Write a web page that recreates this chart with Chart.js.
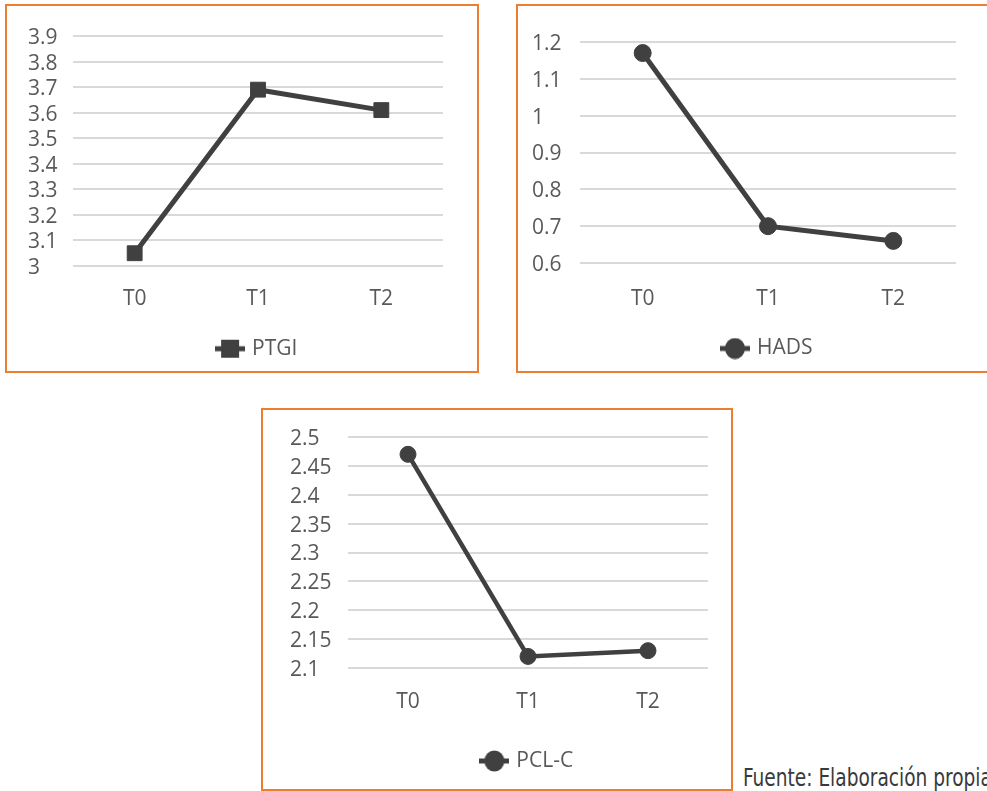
<!DOCTYPE html>
<html><head><meta charset="utf-8">
<script src="https://cdn.jsdelivr.net/npm/chart.js@4.4.0/dist/chart.umd.min.js"></script>
<style>
html,body{margin:0;padding:0;background:#fff;width:987px;height:791px;overflow:hidden;}
.box{position:absolute;border:2px solid #ED7D31;box-sizing:border-box;background:#fff;overflow:hidden;}
.box canvas{position:absolute;left:0;top:0;}
#fuente{position:absolute;left:743px;top:766px;font-family:'Liberation Sans Narrow','DejaVu Sans Condensed',sans-serif;font-size:24px;color:#3a3a3a;white-space:nowrap;line-height:24px;transform:scaleX(0.86);transform-origin:0 0;}
</style></head><body>
<div class="box" style="left:5px;top:4px;width:474px;height:369px;"><canvas id="c1" width="470" height="365"></canvas></div>
<div class="box" style="left:516px;top:4px;width:474px;height:369px;"><canvas id="c2" width="470" height="365"></canvas></div>
<div class="box" style="left:261px;top:408px;width:472px;height:383px;"><canvas id="c3" width="468" height="379"></canvas></div>
<div id="fuente">Fuente: Elaboración propia</div>
<script>
const categories = ['T0', 'T1', 'T2'];
const ptgiValues = [3.05, 3.69, 3.61];
const hadsValues = [1.17, 0.70, 0.66];
const pclcValues = [2.47, 2.12, 2.13];
const ptgiTicks = ['3', '3.1', '3.2', '3.3', '3.4', '3.5', '3.6', '3.7', '3.8', '3.9'];
const hadsTicks = ['0.6', '0.7', '0.8', '0.9', '1', '1.1', '1.2'];
const pclcTicks = ['2.1', '2.15', '2.2', '2.25', '2.3', '2.35', '2.4', '2.45', '2.5'];

const LINE = '#404040';
const TEXT = '#595959';
const GRID = '#d9d9d9';
const FONT = "'Open Sans', sans-serif";

function makeIcon(shape) {
  const c = document.createElement('canvas');
  c.width = 30; c.height = 22;
  const g = c.getContext('2d');
  g.strokeStyle = LINE; g.fillStyle = LINE; g.lineWidth = 5;
  g.beginPath(); g.moveTo(0, 11); g.lineTo(30, 11); g.stroke();
  g.beginPath();
  if (shape === 'rect') { g.rect(6, 2, 18, 18); }
  else { g.ellipse(15, 11, 10, 10.5, 0, 0, Math.PI * 2); }
  g.fill();
  return c;
}

function makeChart(id, o) {
  new Chart(document.getElementById(id), {
    type: 'line',
    data: {
      labels: categories,
      datasets: [{
        label: o.label,
        data: o.values,
        borderColor: LINE,
        backgroundColor: LINE,
        borderWidth: o.lineWidth,
        pointStyle: o.shape,
        pointRadius: o.radius,
        pointHoverRadius: o.radius,
        pointBorderWidth: 1,
        pointBackgroundColor: LINE,
        pointBorderColor: LINE,
        tension: 0,
        clip: false
      }]
    },
    options: {
      responsive: false,
      animation: false,
      events: [],
      layout: { padding: { top: o.pTop, left: o.pLeft, right: o.pRight, bottom: o.pBottom } },
      plugins: {
        tooltip: { enabled: false },
        legend: {
          position: 'bottom',
          fullSize: false,
          labels: {
            usePointStyle: true,
            pointStyle: makeIcon(o.shape),
            pointStyleWidth: 23,
            boxHeight: 21,
            padding: o.legendPad,
            color: TEXT,
            font: { family: FONT, size: 21 }
          }
        }
      },
      scales: {
        x: {
          offset: true,
          grid: { display: false, drawTicks: false },
          border: { display: false },
          ticks: { color: TEXT, padding: o.xPad, font: { family: FONT, size: 21 }, maxRotation: 0, autoSkip: false }
        },
        y: {
          min: o.min, max: o.max,
          grid: { color: GRID, lineWidth: 2, drawTicks: false },
          border: { display: false },
          afterFit: (s) => { s.width = o.yWidth; },
          ticks: {
            stepSize: o.step,
            maxTicksLimit: 20,
            autoSkip: false,
            crossAlign: 'far',
            labelOffset: 2,
            color: TEXT,
            font: { family: FONT, size: 21, lineHeight: 1 },
            callback: (v, i) => o.tickLabels[i]
          }
        }
      }
    }
  });
}

makeChart('c1', { label: 'PTGI', values: ptgiValues, tickLabels: ptgiTicks, min: 3, max: 3.9, step: 0.1,
  shape: 'rect', radius: 10.5, lineWidth: 5,
  pTop: 30, pLeft: 21, pRight: 34, pBottom: 1.8, yWidth: 45, xPad: 20, legendPad: 7 });
makeChart('c2', { label: 'HADS', values: hadsValues, tickLabels: hadsTicks, min: 0.6, max: 1.2, step: 0.1,
  shape: 'circle', radius: 8.5, lineWidth: 5,
  pTop: 36, pLeft: 14, pRight: 32, pBottom: 2, yWidth: 48, xPad: 23, legendPad: 3.8 });
makeChart('c3', { label: 'PCL-C', values: pclcValues, tickLabels: pclcTicks, min: 2.1, max: 2.5, step: 0.05,
  shape: 'circle', radius: 8, lineWidth: 4.5,
  pTop: 27, pLeft: 27, pRight: 23, pBottom: 7.5, yWidth: 58, xPad: 21, legendPad: 15.3 });
</script>
</body></html>
